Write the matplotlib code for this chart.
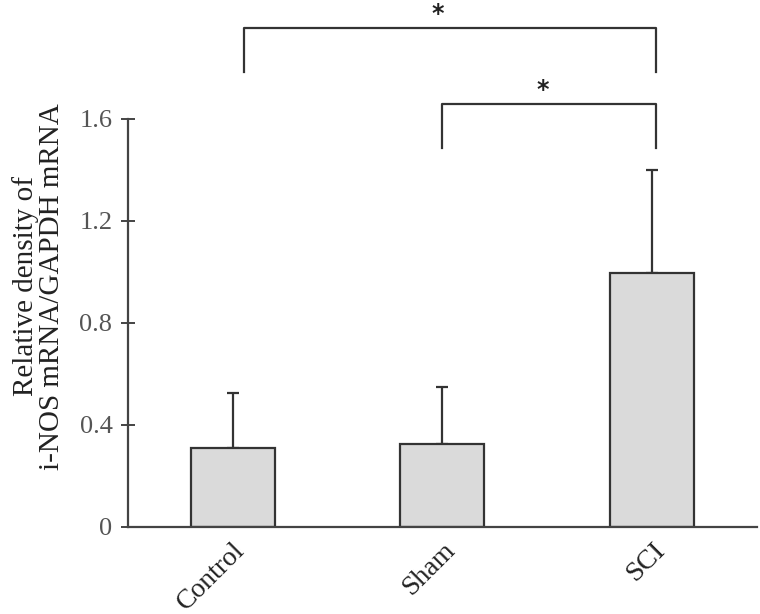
import numpy as np
import matplotlib.pyplot as plt

plt.rcParams['font.family'] = ['Liberation Serif', 'DejaVu Serif']

groups = ['Control', 'Sham', 'SCI']
means = [0.31, 0.325, 0.995]
errs = [0.215, 0.225, 0.405]
yticks = [0, 0.4, 0.8, 1.2, 1.6]
yticklabels = ['0', '0.4', '0.8', '1.2', '1.6']

fig = plt.figure(figsize=(7.6, 6.14), dpi=100)
ax = fig.add_axes([0.168, 0.1417, 0.828, 0.6645])

x = np.arange(len(groups))
ax.bar(x, means, width=0.4, color='#dadada', edgecolor='#333333', linewidth=1.6, zorder=2)
ax.errorbar(x, means, yerr=[np.zeros(len(x)), errs], fmt='none', ecolor='#333333',
            elinewidth=1.6, capsize=4, capthick=1.6, zorder=1)

ax.set_xlim(-0.5, 2.5)
ax.set_ylim(0, 1.6)
ax.set_yticks(yticks)
ax.set_yticklabels(yticklabels)
ax.set_xticks(x)
ax.set_xticklabels(groups, rotation=45, ha='right', rotation_mode='anchor')

for s in ['top', 'right']:
    ax.spines[s].set_visible(False)
for s in ['left', 'bottom']:
    ax.spines[s].set_color('#444444')
    ax.spines[s].set_linewidth(1.6)

ax.tick_params(axis='y', direction='inout', length=10, width=1.4, color='#444444',
               labelsize=19, labelcolor='#555555', pad=6)
ax.tick_params(axis='x', length=0, labelsize=20, labelcolor='#222222', pad=8)

ax.set_ylabel('Relative density of\ni-NOS mRNA/GAPDH mRNA', fontsize=21,
              color='#222222', linespacing=1.0)
ax.yaxis.set_label_coords(-0.1, 0.59)

# significance brackets
def bracket(x0, x1, ytop, ybot, ystar, xstar):
    ax.plot([x0, x0, x1, x1], [ybot, ytop, ytop, ybot], color='#333333', lw=1.6,
            clip_on=False)
    ax.text(xstar, ystar, '*', ha='center', va='center', fontsize=17, fontweight='bold',
            color='#222222', clip_on=False, family='DejaVu Sans')

bracket(0.055, 2.02, 1.955, 1.785, 2.01, 0.98)
bracket(1.0, 2.02, 1.66, 1.488, 1.715, 1.48)

fig.savefig('out.png', dpi=100)
